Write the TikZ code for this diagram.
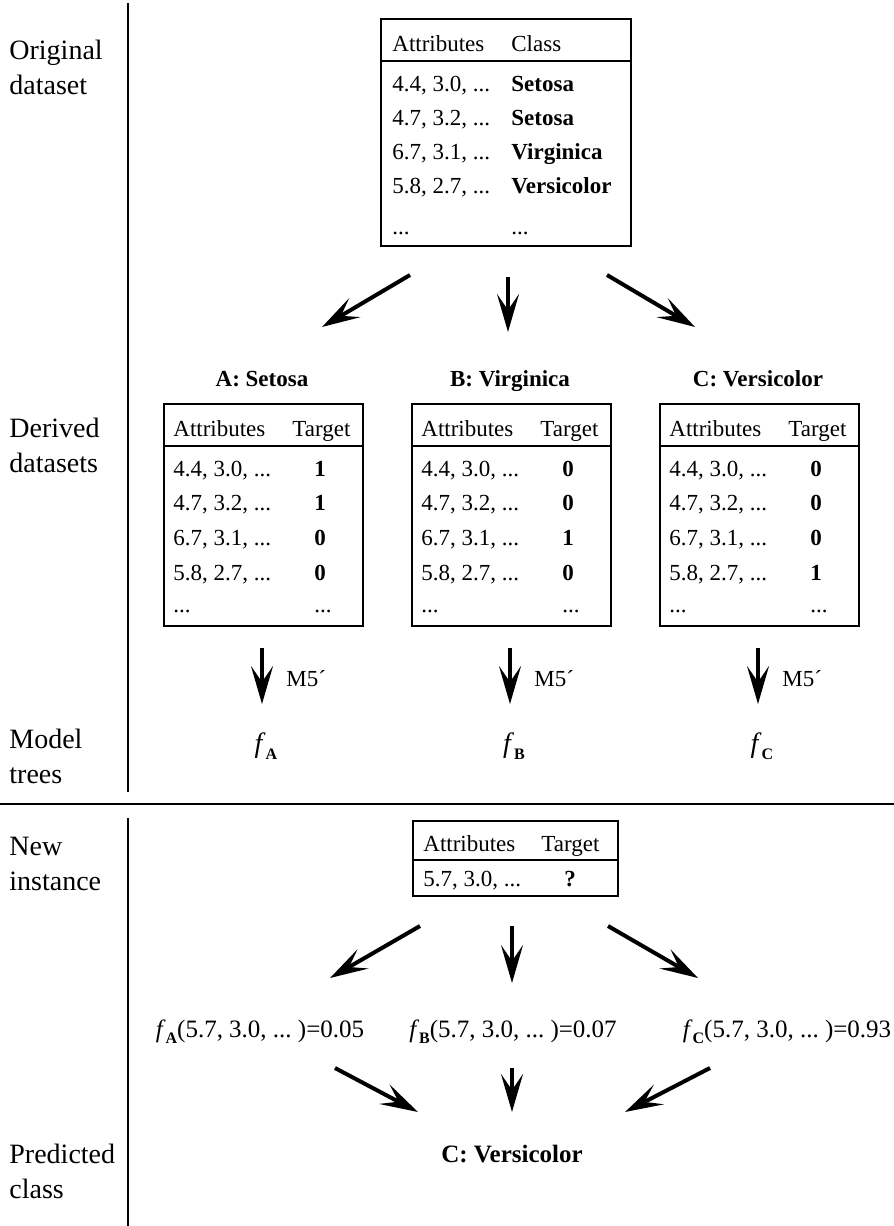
\documentclass[tikz,border=0pt]{standalone}
\usepackage{fontspec}
\setmainfont{Liberation Serif}
\usetikzlibrary{arrows.meta}
\newcommand{\fsub}[1]{\textit{f}\raisebox{-0.55ex}{\footnotesize\bfseries #1}}
\newcommand{\dd}{.\kern0pt.\kern0pt.}
\begin{document}
\begin{tikzpicture}[x=0.5pt,y=-0.5pt,
    stage/.style={anchor=base west,inner sep=0pt,font=\fontsize{14}{16}\selectfont},
    cell/.style={anchor=base west,inner sep=0pt,font=\fontsize{11.5}{14}\selectfont},
    val/.style={anchor=base,inner sep=0pt,font=\fontsize{11.5}{14}\selectfont\bfseries},
    title/.style={anchor=base,inner sep=0pt,font=\fontsize{11.5}{14}\selectfont\bfseries},
    tbox/.style={draw,line width=0.8pt,anchor=north west,inner sep=0pt},
    flow/.style={line width=2pt,-{Stealth[length=19pt,width=11pt,inset=8pt]}}]
  \useasboundingbox (0,0) rectangle (894,1226);

  % frame lines
  \draw[line width=0.6pt] (128,3) -- (128,792);
  \draw[line width=0.6pt] (128,818) -- (128,1226);
  \draw[line width=0.6pt] (0,804) -- (894,804);

  % stage labels
  \node[stage] (s1a) at (9,59) {Original};
  \node[stage] (s1b) at (9,94) {dataset};
  \node[stage] (s2a) at (9,437) {Derived};
  \node[stage] (s2b) at (9,472) {datasets};
  \node[stage] (s3a) at (9,748) {Model};
  \node[stage] (s3b) at (9,783) {trees};
  \node[stage] (s4a) at (9,855) {New};
  \node[stage] (s4b) at (9,890) {instance};
  \node[stage] (s5a) at (9,1163) {Predicted};
  \node[stage] (s5b) at (9,1198) {class};

  % original dataset
  \node[tbox,minimum width=125pt,minimum height=113.5pt] (orig) at (380,18) {};
  \draw[line width=0.8pt] (380,61) -- (630,61);
  \node[cell] (orig-h1) at (392,51) {Attributes};
  \node[cell] (orig-h2) at (511,51) {Class};
  \foreach \a/\c [count=\i] in {{4.4, 3.0, \dd}/Setosa,{4.7, 3.2, \dd}/Setosa,
      {6.7, 3.1, \dd}/Virginica,{5.8, 2.7, \dd}/Versicolor}
    {\node[cell] (orig-a\i) at (392,{91+34.3*(\i-1)}) {\a};
     \node[cell,font=\fontsize{11.5}{14}\selectfont\bfseries] (orig-c\i) at (511,{91+34.3*(\i-1)}) {\c};}
  \node[cell] (orig-d1) at (392,234) {\dd};
  \node[cell] (orig-d2) at (511,234) {\dd};

  % split into three
  \foreach \n/\xa/\ya/\xb/\yb in {a/410/275/322/327,b/508/277/508/332,c/607/275/695/327}
    {\coordinate (up-\n) at (\xa,\ya);
     \coordinate (dn-\n) at (\xb,\yb);
     \draw[flow] (up-\n) -- (dn-\n);}

  % derived datasets
  \foreach \t/\x/\nm/\v in {A/163/Setosa/{1,1,0,0},B/411/Virginica/{0,0,1,0},C/659/Versicolor/{0,0,0,1}}
    {\node[title] (lab\t) at (\x+99,386) {\t: \nm};
     \node[tbox,minimum width=99.5pt,minimum height=111pt] (tab\t) at (\x,403) {};
     \draw[line width=0.8pt] (\x,446) -- (\x+199,446);
     \node[cell] (tab\t-h1) at (\x+10,436) {Attributes};
     \node[cell] (tab\t-h2) at (\x+129,436) {Target};
     \foreach \a [count=\i] in {{4.4, 3.0, \dd},{4.7, 3.2, \dd},{6.7, 3.1, \dd},{5.8, 2.7, \dd}}
       {\node[cell] (tab\t-a\i) at (\x+10,{476+34.7*(\i-1)}) {\a};}
     \foreach \b [count=\i] in \v
       {\node[val] (tab\t-v\i) at (\x+157,{476+34.7*(\i-1)}) {\b};}
     \node[cell] (tab\t-d1) at (\x+10,612) {\dd};
     \node[val,font=\fontsize{11.5}{14}\selectfont] (tab\t-d2) at (\x+160,612) {\dd};
     % model tree
     \coordinate (m\t-s) at (\x+99,648);
     \coordinate (m\t-e) at (\x+99,704);
     \draw[flow] (m\t-s) -- (m\t-e);
     \node[cell] (m5\t) at (\x+123,686) {M5´};
     \node[anchor=base,inner sep=0pt,font=\fontsize{14}{16}\selectfont] (f\t) at (\x+103,752) {\fsub{\t}};}

  % new instance
  \node[tbox,minimum width=102.5pt,minimum height=37.5pt] (inst) at (412,820) {};
  \draw[line width=0.8pt] (412,860) -- (617,860);
  \node[cell] (inst-h1) at (423,851) {Attributes};
  \node[cell] (inst-h2) at (541,851) {Target};
  \node[cell] (inst-a1) at (423,886) {5.7, 3.0, \dd};
  \node[val] (inst-v1) at (570,886) {?};

  \foreach \n/\xa/\ya/\xb/\yb in {a/420/926/330/978,b/512/926/512/983,c/608/926/698/978}
    {\coordinate (in-\n) at (\xa,\ya);
     \coordinate (out-\n) at (\xb,\yb);
     \draw[flow] (in-\n) -- (out-\n);}

  % model outputs
  \node[title,font=\fontsize{12.5}{15}\selectfont] (pA) at (260,1037) {\fsub{A}(5.7, 3.0, \dd\ )=0.05};
  \node[title,font=\fontsize{12.5}{15}\selectfont] (pB) at (513,1037) {\fsub{B}(5.7, 3.0, \dd\ )=0.07};
  \node[title,font=\fontsize{12.5}{15}\selectfont] (pC) at (787,1037) {\fsub{C}(5.7, 3.0, \dd\ )=0.93};

  \foreach \n/\xa/\ya/\xb/\yb in {a/335/1068/418/1112,b/512/1068/512/1112,c/710/1068/625/1112}
    {\coordinate (vote-\n) at (\xa,\ya);
     \coordinate (res-\n) at (\xb,\yb);
     \draw[flow] (vote-\n) -- (res-\n);}

  % prediction
  \node[title,font=\fontsize{12.5}{15}\selectfont\bfseries] (pred) at (512,1162) {C: Versicolor};
\end{tikzpicture}
\end{document}
